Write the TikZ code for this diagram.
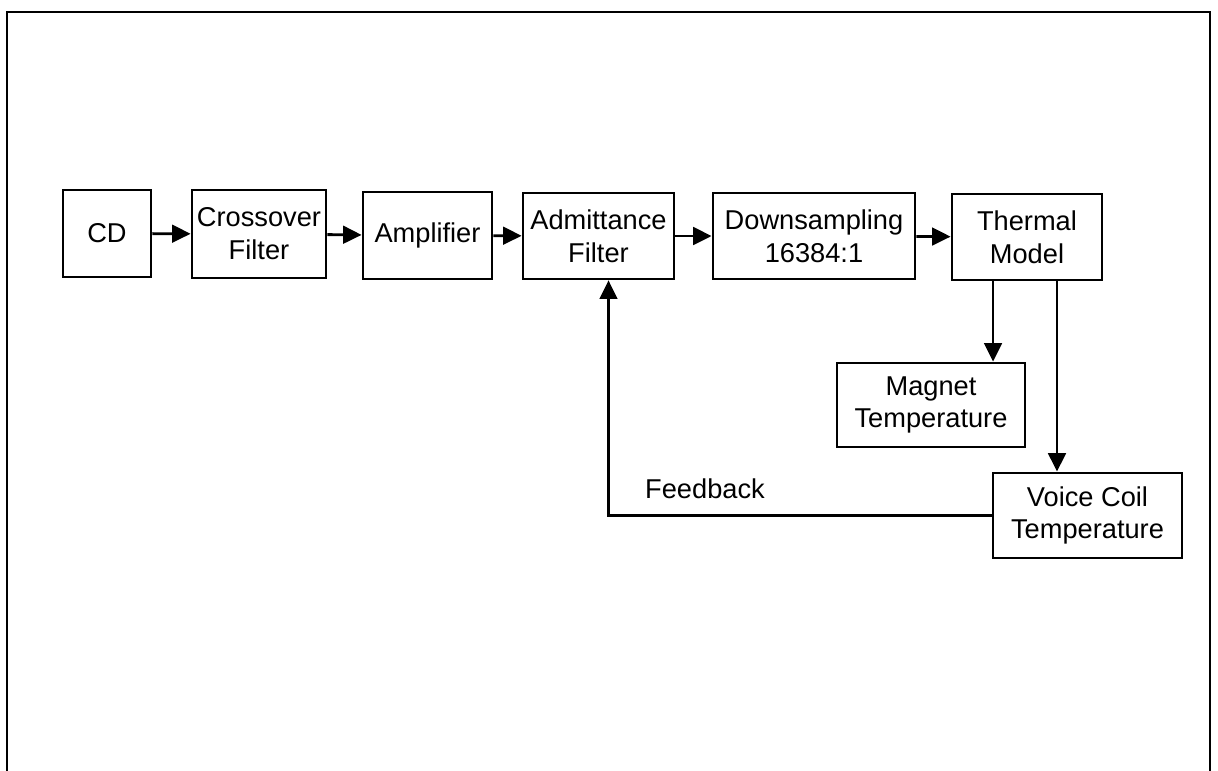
\documentclass[tikz,border=0pt]{standalone}
\usepackage{fontspec}
\setmainfont{Liberation Sans}
\usetikzlibrary{arrows.meta}

\tikzset{
	blk/.style={draw, line width=1.6pt, inner sep=0pt, align=center,
		font=\fontsize{15.5}{18.7}\selectfont},
	arr/.style={line width=1.6pt, -{Triangle[length=10.5pt,width=10pt]}},
}

\begin{document}
\begin{tikzpicture}[x=0.02cm,y=-0.02cm]
	\useasboundingbox (0,0) rectangle (1218,771);
	\draw[line width=1.1pt] (7,771) -- (7,12) -- (1210,12) -- (1210,771);

	\node[blk, minimum width=1.76cm, minimum height=1.74cm] (cd) at (107,233.5) {CD};
	\node[blk, minimum width=2.68cm, minimum height=1.76cm] (cross) at (259,234) {Crossover\\Filter};
	\node[blk, minimum width=2.58cm, minimum height=1.74cm] (amp) at (427.5,235.5) {Amplifier};
	\node[blk, minimum width=3.02cm, minimum height=1.72cm] (adm) at (598.5,236) {Admittance\\Filter};
	\node[blk, minimum width=4.04cm, minimum height=1.72cm] (down) at (814,236) {Downsampling\\16384:1};
	\node[blk, minimum width=3.00cm, minimum height=1.72cm] (therm) at (1027,237) {Thermal\\Model};
	\node[blk, minimum width=3.76cm, minimum height=1.68cm] (mag) at (931,405) {Magnet\\Temperature};
	\node[blk, minimum width=3.78cm, minimum height=1.70cm] (voice) at (1087.5,515.5) {Voice Coil\\Temperature};
	\node[font=\fontsize{15.5}{18.7}\selectfont] (fb) at (705,489) {Feedback};

	\draw[arr] (cd) -- (cross);
	\draw[arr] (cross) -- (amp);
	\draw[arr] (amp) -- (adm);
	\draw[arr] (adm) -- (down);
	\draw[arr] (down) -- (therm);
	\draw[arr] ([xshift=-0.68cm]therm.south) -- ([xshift=-0.68cm]therm.south |- mag.north);
	\draw[arr] ([xshift=0.6cm]therm.south) -- ([xshift=0.6cm]therm.south |- voice.north);
	\draw[arr, line width=1.2pt] (voice.west) -| ([xshift=0.2cm]adm.south);
\end{tikzpicture}
\end{document}
